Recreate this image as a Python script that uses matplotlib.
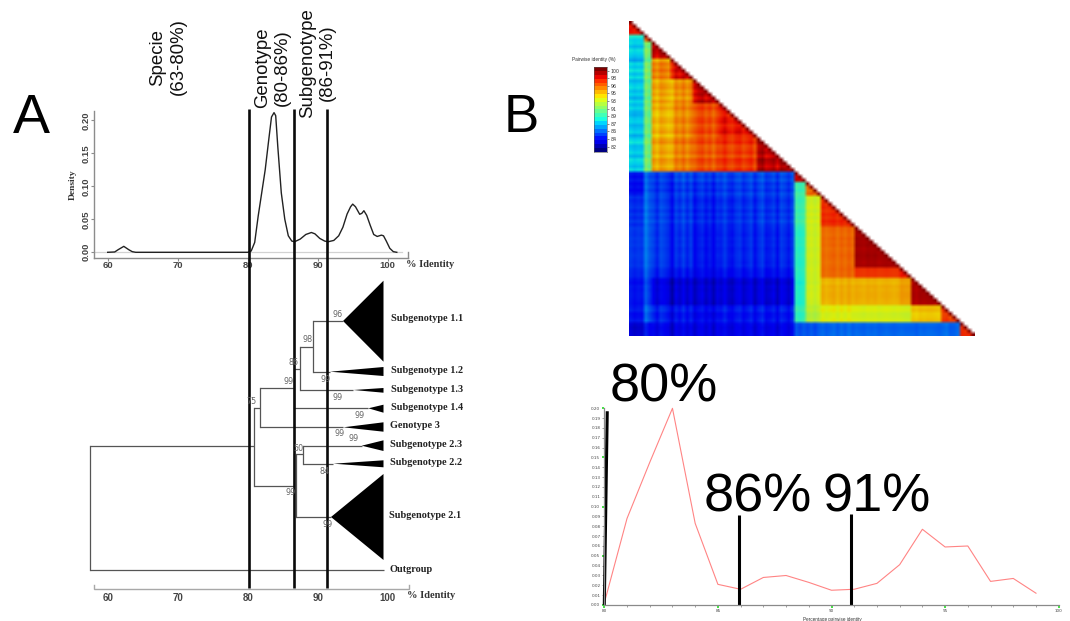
import numpy as np
import matplotlib
matplotlib.use("Agg")
import matplotlib.pyplot as plt
from matplotlib.colors import BoundaryNorm, ListedColormap, Normalize

W, H = 1070, 621
SANS = ["Liberation Sans", "DejaVu Sans"]
SERIF = ["Liberation Serif", "DejaVu Serif"]
NARROW = ["Liberation Sans Narrow", "Liberation Sans", "DejaVu Sans"]

# ---------- panel A, density ----------
density_x = [60, 61, 61.5, 62.3, 63, 63.5, 64, 70, 75, 80, 80.5, 81, 81.5, 82, 82.5, 83, 83.4,
             83.76, 84, 84.3, 84.8, 85.3, 85.8, 86.3, 86.7, 87.5, 88.3, 89.1, 89.6, 90.3, 91,
             91.5, 92.3, 93, 93.6, 94.2, 94.7, 95, 95.4, 96, 96.3, 96.6, 97, 97.5, 98, 98.5,
             99.1, 99.4, 99.8, 100.3, 100.8, 101.3]
density_y = [0, .0005, .004, .009, .004, .001, 0, 0, 0, 0, .002, .015, .055, .09, .125, .17,
             .205, .2116, .207, .16, .09, .05, .025, .017, .016, .02, .027, .03, .028, .021,
             .017, .016, .018, .025, .038, .058, .069, .073, .069, .0576, .059, .063, .056,
             .041, .027, .024, .026, .025, .017, .006, .001, 0]
density_xticks = [60, 70, 80, 90, 100]
density_yticks = [0.00, 0.05, 0.10, 0.15, 0.20]
thresholds = [80.15, 86.6, 91.3]
threshold_labels = ["Specie\n(63-80%)", "Genotype\n(80-86%)", "Subgenotype\n(86-91%)"]

# ---------- panel A, tree (x: % identity, y: vertical layout row) ----------
branch_h = [  # x from, x to, row
    (57.4, 80.86, 446.3), (80.86, 81.76, 407.7), (81.76, 86.6, 388.3), (86.6, 87.43, 369),
    (87.43, 89.33, 346.7), (89.33, 93.62, 321), (89.33, 91.76, 371.7), (87.43, 95.1, 390),
    (86.6, 97.24, 408.3), (81.76, 93.67, 427.3), (80.86, 86.6, 486), (86.85, 87.86, 454.3),
    (87.86, 96.29, 445.7), (87.86, 92.24, 463.7), (86.85, 91.9, 517), (57.4, 99.4, 569.7)]
branch_v = [  # x, row from, row to
    (57.4, 446.3, 569.7), (80.86, 407.7, 486), (81.76, 388.3, 427.3), (86.6, 369, 408.3),
    (87.43, 346.7, 390), (89.33, 321, 371.7), (86.6, 454.3, 486), (86.85, 454.3, 517),
    (87.86, 445.7, 463.7)]
clade_names = ["Subgenotype 1.1", "Subgenotype 1.2", "Subgenotype 1.3", "Subgenotype 1.4",
               "Genotype 3", "Subgenotype 2.3", "Subgenotype 2.2", "Subgenotype 2.1"]
clade_apex_x = [93.62, 91.76, 95.1, 97.24, 93.67, 96.29, 92.24, 91.9]
clade_apex_row = [321, 371.7, 390, 408.3, 427.3, 445.7, 463.7, 517]
clade_top_row = [280.7, 367, 388, 404.7, 422.3, 440.3, 460.3, 474]
clade_bot_row = [361.7, 376, 392.7, 412.7, 431.7, 451, 467.3, 560]
clade_label_x = [391, 391, 391, 391, 390.5, 390, 389.5, 389]
clade_label_row = [318.7, 370.7, 389.7, 408, 426, 444.3, 462.7, 515.7]
support_vals = ["96", "98", "86", "99", "99", "99", "75", "99", "99", "99", "50", "84", "99", "99"]
support_x = [92.9, 88.6, 86.6, 85.9, 91.1, 92.9, 80.5, 96.0, 93.1, 95.1, 87.2, 91.0, 86.2, 91.4]
support_row = [314.3, 340, 362.3, 382, 379.3, 397.3, 401, 416, 434, 438.7, 448.3, 471.3, 492.7, 524.3]

# ---------- panel B, identity matrix ----------
legend_labels = ["100", "98", "96", "95", "93", "91", "89", "87", "86", "84", "82"]
group_sizes = [4, 2, 5, 6, 7, 10, 10, 3, 4, 9, 12, 3, 8, 5, 4]
group_identity = [
    [98.4],
    [88.0, 96.5],
    [87.6, 90.8, 99.4],
    [87.6, 90.8, 96.0, 98.8],
    [87.4, 90.4, 95.2, 95.6, 99.2],
    [87.3, 90.4, 94.9, 95.8, 97.2, 98.4],
    [87.5, 90.6, 95.2, 96.0, 97.0, 97.6, 99.4],
    [83.6, 85.2, 84.6, 84.8, 84.5, 84.7, 84.7, 99.0],
    [83.4, 85.2, 84.4, 84.4, 84.1, 84.4, 84.4, 89.3, 96.5],
    [84.2, 85.4, 84.6, 84.4, 83.9, 84.2, 84.3, 89.3, 93.0, 98.0],
    [84.4, 85.4, 84.5, 84.2, 83.6, 84.0, 84.0, 88.8, 93.0, 96.6, 99.9],
    [84.0, 85.0, 84.0, 83.6, 83.2, 83.5, 83.5, 88.8, 93.0, 96.6, 97.8, 98.5],
    [83.6, 84.6, 83.0, 82.6, 82.4, 82.6, 82.6, 88.6, 93.0, 95.0, 95.0, 95.4, 99.8],
    [83.6, 85.2, 84.0, 83.6, 83.2, 83.6, 83.6, 89.0, 92.4, 93.4, 93.2, 93.0, 94.5, 97.5],
    [82.4, 83.4, 83.2, 83.0, 82.8, 83.0, 83.0, 85.0, 85.0, 85.4, 85.4, 85.4, 85.4, 85.4, 98.0]]
seq_shift = [.2, -.1, .1, 0, .6, -.3, .2, -.5, .4, .1, -.3, -1.0, .3, -.2,
             .5, -.3, .4, -.4, .2, .5, -.2, .3, -.5, .4, -.1, .5, -.2, -.4, .2, .4, -.3, .1, .5,
             -.5, .2, .6, -.3, -.1, .3, -.5, .5, .2, -.3, .5,
             .2, -.2, .2, -.1, .2, -.2, .3, .1, -.2, 0, .2, -.2, .2, -.1, .3, -.1,
             .1, 0, -.1, .1, 0, .1, -.1, 0, .1, 0, -.1, 0, .1, 0, 0, 0, -.2, .1, 0, .1,
             .1, 0, -.1, .1, .3, -.2, -.1, .2, .1, -.1, 0, .1]

# ---------- panel B, distribution ----------
pairwise_x = list(range(80, 100))
pairwise_y = [.002, .088, .145, .200, .083, .021, .016, .028, .030, .023, .015, .016, .022,
              .041, .077, .059, .060, .024, .027, .012]
pairwise_marks_x = [80.13, 85.95, 90.87]
pairwise_marks_top = [.197, .0916, .0925]
pairwise_mark_labels = ["80%", "86%", "91%"]


def box(x0, y0, x1, y1, **kw):
    return fig.add_axes([x0 / W, 1 - y1 / H, (x1 - x0) / W, (y1 - y0) / H], **kw)


def ptext(x, y, s, **kw):
    fig.text(x / W, 1 - y / H, s, **kw)


fig = plt.figure(figsize=(W / 100, H / 100), dpi=100, facecolor="white")
AXC = "#8c8c8c"
PCT = lambda px: 60 + (px - 107.7) / 7

# --- density
ax = box(94.3, 110.7, 408.3, 257.7)
ax.set_xlim(PCT(94.3), PCT(408.3))
ax.set_ylim(-5.4 / 660, 141.6 / 660)
ax.axhline(0, xmax=0.98, color="#d2d2d2", lw=0.9, zorder=1)
ax.plot(density_x, density_y, color="#222222", lw=1.0, zorder=3)
ax.spines["top"].set_visible(False)
for s in ["left", "bottom", "right"]:
    ax.spines[s].set_color(AXC)
    ax.spines[s].set_linewidth(1.0)
ax.spines["right"].set_bounds(-5.4 / 660, 0)
ax.set_xticks(density_xticks)
ax.set_yticks(density_yticks)
ax.set_yticklabels([f"{v:.2f}" for v in density_yticks], rotation=90, va="center")
ax.tick_params(axis="both", length=2, width=0.8, color=AXC, pad=0.5, labelsize=6.8, labelcolor="#444444")
for t in ax.get_xticklabels() + ax.get_yticklabels():
    t.set_fontfamily(NARROW)
    t.set_fontweight("bold")
ax.patch.set_alpha(0)
ptext(430, 264.5, "% Identity", family=SERIF, weight="bold", fontsize=7.5, color="#333333", ha="center", va="center")
ptext(73, 185, "Density", family=SERIF, weight="bold", fontsize=6.8, color="#333333", rotation=90, ha="center", va="center")

# --- tree + threshold lines
tr = box(80, 100, 480, 600, facecolor="none")
tr.set_xlim(PCT(80), PCT(480))
tr.set_ylim(600, 100)
tr.axis("off")
TC = "#555555"
for x0, x1, r in branch_h:
    tr.plot([x0, x1], [r, r], color=TC, lw=0.9, solid_capstyle="butt")
for x, r0, r1 in branch_v:
    tr.plot([x, x], [r0, r1], color=TC, lw=0.9, solid_capstyle="projecting")
for i, name in enumerate(clade_names):
    tr.fill([clade_apex_x[i], 99.4, 99.4], [clade_apex_row[i], clade_top_row[i], clade_bot_row[i]],
            color="black", lw=0)
    ptext(clade_label_x[i], clade_label_row[i], name, family=SERIF, weight="bold", fontsize=7.4,
          color="#222222", ha="left", va="center")
ptext(389.5, 569.7, "Outgroup", family=SERIF, weight="bold", fontsize=7.4, color="#222222", ha="left", va="center")
for s, x, r in zip(support_vals, support_x, support_row):
    tr.text(x, r, s, fontsize=5.8, color="#666666", ha="center", va="center", family="DejaVu Sans", zorder=6)
for th in thresholds:
    tr.plot([th, th], [108.5, 588], color="#0a0a0a", lw=1.9, solid_capstyle="butt", zorder=5)
# scale bar
tr.plot([58.1, 58.1, 103, 103], [585, 589.3, 589.3, 585], color="#a8a8a8", lw=1.0, solid_joinstyle="miter")
for v in density_xticks:
    tr.text(v, 597.7, str(v), family=NARROW, weight="bold", fontsize=7.0, color="#444444", ha="center", va="center")
ptext(431, 596, "% Identity", family=SERIF, weight="bold", fontsize=7.5, color="#333333", ha="center", va="center")

# --- threshold titles
for lab, x, y in zip(threshold_labels, [168, 272.5, 317.5], [57, 68, 63]):
    ptext(x, y, lab, family=SANS, fontsize=13.4, color="#111111", rotation=90, ha="center", va="center",
          ma="center", linespacing=1.26)
ptext(31, 119, "A", family=SANS, fontsize=40, color="black", ha="center", va="center")
ptext(521.5, 118, "B", family=SANS, fontsize=38, color="black", ha="center", va="center")

# --- heat map
n = sum(group_sizes)
ids = np.repeat(np.arange(len(group_sizes)), group_sizes)
M = np.full((n, n), np.nan)
for i in range(n):
    for j in range(i + 1):
        M[i, j] = group_identity[ids[i]][ids[j]] + seq_shift[i] + seq_shift[j]
    M[i, i] = 100.6
vmin, vmax = 80.8, 100.8
rgba = plt.get_cmap("jet")(Normalize(vmin, vmax)(np.nan_to_num(M, nan=vmax)))
rgba[..., :3] *= 0.93
rgba[np.isnan(M)] = (1, 1, 1, 1)
hm = box(629, 21, 975, 336)
hm.imshow(rgba, extent=(0, n, n, 0), aspect="auto", interpolation="bilinear")
hm.set_xlim(0, n)
hm.set_ylim(n, 0)
hm.axis("off")

# --- colour legend
levels = np.linspace(vmin, vmax, 23)
cmap = ListedColormap(plt.get_cmap("jet")(np.linspace(0, 1, 22)))
norm = BoundaryNorm(levels, cmap.N)
cb = box(594, 67.3, 606.7, 151.7)
cb.pcolormesh([0, 1], levels, np.array(levels[:-1] + 0.01).reshape(-1, 1), cmap=cmap, norm=norm)
cb.set_xticks([])
cb.yaxis.tick_right()
cb.set_yticks(np.linspace(82, 100, 11))
cb.set_yticklabels(legend_labels[::-1])
cb.tick_params(axis="y", length=1.5, width=0.4, pad=1.5, labelsize=3.4, colors="#333333")
for s in cb.spines.values():
    s.set_linewidth(0.4)
    s.set_color("#555555")
ptext(594, 59.5, "Pairwise identity (%)", family=SANS, fontsize=3.4, color="#333333", ha="center", va="center")

# --- distribution line
ln = box(604.3, 408.3, 1058.7, 605)
ln.set_xlim(80, 100)
ln.set_ylim(0, 0.2)
ln.plot(pairwise_x, pairwise_y, color="#ff8484", lw=0.8, clip_on=False)
for s in ["top", "right"]:
    ln.spines[s].set_visible(False)
for s in ["left", "bottom"]:
    ln.spines[s].set_color("#8a8a8a")
    ln.spines[s].set_linewidth(0.9)
ln.set_xticks([80, 85, 90, 95, 100])
ln.set_xticks(range(80, 100), minor=True)
ln.set_yticks([0, .05, .10, .15, .20])
ln.set_yticks(np.arange(21) / 100, minor=True)
ln.set_yticklabels([f"{v:.2f}" for v in [0, .05, .10, .15, .20]])
ln.set_yticklabels([f"{v:.2f}" for v in np.arange(21) / 100], minor=True)
ln.tick_params(which="major", length=1.8, width=1.2, color="#22dd22", labelsize=3, labelcolor="#444444", pad=1.2)
ln.tick_params(which="minor", length=1.2, width=0.4, color="#555555", labelsize=3, labelcolor="#444444", pad=1.2)
ptext(832, 619, "Percentage pairwise identity", family=SANS, fontsize=3.3, color="#333333", ha="center", va="center")
ln.plot([80, pairwise_marks_x[0]], [0, pairwise_marks_top[0]], color="black", lw=2.2, solid_capstyle="butt", clip_on=False)
for x, top in zip(pairwise_marks_x[1:], pairwise_marks_top[1:]):
    ln.plot([x, x], [0, top], color="black", lw=2.2, solid_capstyle="butt", clip_on=False)
for lab, x, y in zip(pairwise_mark_labels, [663.5, 758, 877], [387, 497, 497]):
    ptext(x, y, lab, family=SANS, fontsize=39, color="black", ha="center", va="center")

fig.savefig("out.png", dpi=100)
